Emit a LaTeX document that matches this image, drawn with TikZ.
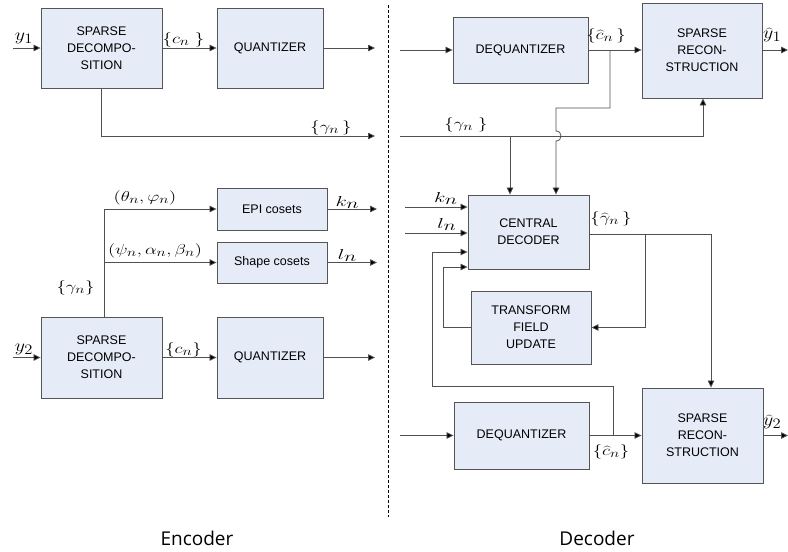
\documentclass[tikz,border=0pt]{standalone}
\usepackage{graphicx}
\usepackage{fontspec}
\setmainfont{Liberation Sans}
\newfontfamily\capfont{Open Sans}
\usetikzlibrary{arrows.meta,calc}
\DeclareMathSizes{15}{15}{12.5}{10}
\DeclareMathSizes{15.5}{15.5}{14}{10}
\DeclareMathSizes{18}{18}{15.5}{11}
\newcommand{\mlx}[1]{\scalebox{1.3}[1]{$#1$}}
\newcommand{\blx}[1]{\scalebox{1.45}[1]{$#1$}}
\newcommand{\ylx}[1]{\scalebox{1.15}[1]{$#1$}}
\definecolor{boxfill}{RGB}{230,236,247}
\definecolor{boxline}{RGB}{85,85,85}
\definecolor{wire}{RGB}{80,80,80}
\begin{document}
\begin{tikzpicture}[x=1pt,y=-1pt,
  blk/.style={draw=boxline, fill=boxfill, line width=0.9pt, align=center, inner sep=0pt,
    font=\fontsize{12.5}{17}\selectfont},
  ln/.style={draw=wire, line width=0.8pt},
  arr/.style={ln, -{Triangle[length=7pt,width=6.5pt,fill=black]}},
  mlab/.style={inner sep=0pt, font=\fontsize{15}{17}\selectfont},
  blab/.style={inner sep=0pt, font=\fontsize{15.5}{18}\selectfont},
  ylab/.style={inner sep=0pt, font=\fontsize{18}{20}\selectfont},
  captext/.style={inner sep=0pt, font=\capfont\fontsize{19}{22}\selectfont}
]
\useasboundingbox (0,0) rectangle (788,552);

% ---------------- Encoder ----------------
\node[blk, minimum width=121, minimum height=80] (SD1) at (101.5,48) {SPARSE\\DECOMPO-\\SITION};
\node[blk, minimum width=106, minimum height=80] (Q1) at (270,48) {QUANTIZER};
\node[blk, minimum width=110, minimum height=42] (EPI) at (272,209) {EPI cosets};
\node[blk, minimum width=110, minimum height=41] (SHP) at (272,262.5) {Shape cosets};
\node[blk, minimum width=121, minimum height=81] (SD2) at (101.5,357.5) {SPARSE\\DECOMPO-\\SITION};
\node[blk, minimum width=106, minimum height=81] (Q2) at (270,357.5) {QUANTIZER};

\coordinate (y1in) at (13,48);
\coordinate (q1out) at (375,48);
\coordinate (g1out) at (375,136);
\coordinate (y2in) at (13,357.5);
\coordinate (q2out) at (375,357.5);
\coordinate (br) at (104,209);
\coordinate (kout) at (377,209);
\coordinate (lout) at (377,262.5);

\draw[arr] (y1in) -- (SD1.west);
\draw[arr] (SD1) -- (Q1);
\draw[arr] (Q1.east) -- (q1out);
\draw[arr] (SD1.south) |- (g1out);
\draw[arr] (SD2.north -| br) -- (br) -- (EPI.west);
\draw[arr] (br |- SHP.west) -- (SHP.west);
\draw[arr] (EPI.east) -- (kout);
\draw[arr] (SHP.east) -- (lout);
\draw[arr] (y2in) -- (SD2.west);
\draw[arr] (SD2) -- (Q2);
\draw[arr] (Q2.east) -- (q2out);

\node[ylab] (ly1) at (24,38) {\ylx{y_1}};
\node[mlab] (lc1) at (183.5,39.5) {\mlx{\{c_n\;\}}};
\node[mlab] (lg1) at (331,128) {\mlx{\{\gamma_n\,\}}};
\node[mlab] (lth) at (145,197.5) {\mlx{(\theta_n,\varphi_n)}};
\node[mlab] (lps) at (155,251) {\mlx{(\psi_n,\alpha_n,\beta_n)}};
\node[mlab] (lg2) at (75.5,287.5) {\mlx{\{\gamma_n\}}};
\node[blab] (lk) at (347.5,202.5) {\blx{k_n}};
\node[blab] (ll) at (347.5,255.5) {\blx{l_n}};
\node[ylab] (ly2) at (24,349) {\ylx{y_2}};
\node[mlab] (lc2) at (183.5,350) {\mlx{\{c_n\}}};

% divider
\draw[black, line width=0.6pt, dash pattern=on 3pt off 2pt] (388,5) -- (388,517);

% ---------------- Decoder ----------------
\node[blk, minimum width=135, minimum height=66] (DQ1) at (520.5,50) {DEQUANTIZER};
\node[blk, minimum width=120, minimum height=95] (SR1) at (702,50.5) {SPARSE\\RECON-\\STRUCTION};
\node[blk, minimum width=121, minimum height=74] (CD) at (528.5,232) {CENTRAL\\DECODER};
\node[blk, minimum width=120, minimum height=73] (TFU) at (531,327.5) {TRANSFORM\\FIELD\\UPDATE};
\node[blk, minimum width=135, minimum height=67] (DQ2) at (521.5,435.5) {DEQUANTIZER};
\node[blk, minimum width=121, minimum height=95] (SR2) at (702.5,435.5) {SPARSE\\RECON-\\STRUCTION};

\coordinate (d1in) at (400,50);
\coordinate (y1out) at (788,50);
\coordinate (g2in) at (400,136);
\coordinate (g2up) at (703,136);
\coordinate (gb) at (510,136);
\coordinate (cb) at (610,50);
\coordinate (cturn) at (556,108);
\coordinate (kin) at (405,207);
\coordinate (lin) at (405,233);
\coordinate (in3) at (432,252);
\coordinate (in4) at (443,267);
\coordinate (lp) at (613,435.5);
\coordinate (lptop) at (613,386);
\coordinate (o1) at (711,234);
\coordinate (ob) at (645,234);
\coordinate (d2in) at (400,435.5);
\coordinate (y2out) at (788,435.5);

\draw[arr] (d1in) -- (DQ1.west);
\draw[arr] (DQ1.east) -- (DQ1.east -| SR1.west);
\draw[arr] (SR1.east |- y1out) -- (y1out);
\draw[arr] (g2in) -- (g2up) -- (g2up |- SR1.south);
\draw[arr] (gb) -- (gb |- CD.north);
\draw[arr] (cb) |- (cturn) -- (556,131) .. controls (562.7,131) and (562.7,141) .. (556,141) -- (cturn |- CD.north);
\draw[arr] (kin) -- (kin -| CD.west);
\draw[arr] (lin) -- (lin -| CD.west);
\draw[arr] (lp) -- (lptop) -| (in3) -- (in3 -| CD.west);
\draw[arr] (TFU.west) -| (in4) -- (in4 -| CD.west);
\draw[arr] (CD.east |- o1) -- (o1) -- (o1 |- SR2.north);
\draw[arr] (ob) |- (TFU.east);
\draw[arr] (d2in) -- (DQ2.west);
\draw[arr] (DQ2.east) -- (SR2.west);
\draw[arr] (SR2.east) -- (y2out);

\node[mlab] (lc3) at (606,36) {\mlx{\{\widehat{c}_n\,\}}};
\node[ylab, anchor=west] (ly1h) at (763,35) {\ylx{\widehat{y}_1}};
\node[mlab] (lg3) at (466,125) {\mlx{\{\gamma_n\;\}}};
\node[blab] (lk2) at (446,198.5) {\blx{k_n}};
\node[blab] (ll2) at (447,224.5) {\blx{l_n}};
\node[mlab] (lgh) at (611,219) {\mlx{\{\widehat{\gamma}_n\,\}}};
\node[ylab, anchor=west] (ly2h) at (763,422) {\ylx{\widehat{y}_2}};
\node[mlab] (lc4) at (611,452) {\mlx{\{\widehat{c}_n\}}};

\node[captext] (enc) at (197,538) {Encoder};
\node[captext] (dec) at (597,538) {Decoder};
\end{tikzpicture}
\end{document}
